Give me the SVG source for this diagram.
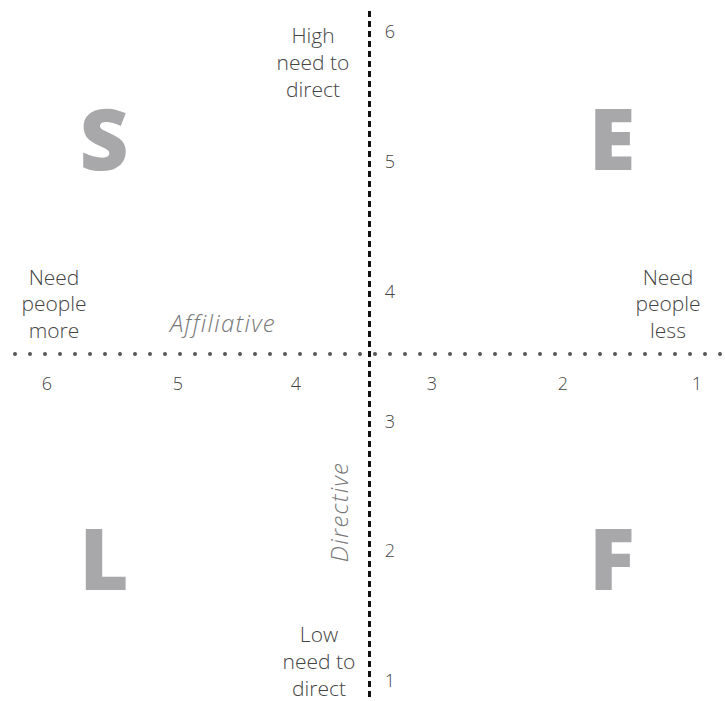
<svg xmlns="http://www.w3.org/2000/svg" width="725" height="701" viewBox="0 0 725 701">
<style>
.t{font-family:"Open Sans",Lato,"Liberation Sans",sans-serif;font-weight:300;font-size:21px;fill:#444;text-anchor:middle}
.n{font-family:"Open Sans",Lato,"Liberation Sans",sans-serif;font-weight:300;font-size:18px;fill:#444;text-anchor:middle}
.ax{font-family:"Open Sans",Lato,"Liberation Sans",sans-serif;font-weight:300;font-style:italic;font-size:24px;letter-spacing:1.3px;fill:#777;text-anchor:middle}
.big{font-family:"Open Sans",Lato,"Liberation Sans",sans-serif;font-weight:800;font-size:85px;fill:#a8a8ab;text-anchor:middle}
</style>
<g id="connectors">
<line x1="15" y1="354" x2="725" y2="354" stroke="#555" stroke-width="4" stroke-linecap="round" stroke-dasharray="0 15"/>
<line x1="369.5" y1="11" x2="369.5" y2="701" stroke="#111" stroke-width="3" stroke-dasharray="6 4"/>
</g>
<g id="quadrant-S"><text class="big" x="104" y="170">S</text></g>
<g id="quadrant-E"><text class="big" x="612" y="170">E</text></g>
<g id="quadrant-L"><text class="big" x="104" y="590">L</text></g>
<g id="quadrant-F"><text class="big" x="612" y="590">F</text></g>
<g id="label-high"><text class="t" x="313" y="43">High</text><text class="t" x="313" y="70">need to</text><text class="t" x="313" y="97">direct</text></g>
<g id="label-low"><text class="t" x="319" y="642">Low</text><text class="t" x="319" y="669">need to</text><text class="t" x="319" y="696">direct</text></g>
<g id="label-more"><text class="t" x="54" y="285">Need</text><text class="t" x="54" y="311">people</text><text class="t" x="54" y="338">more</text></g>
<g id="label-less"><text class="t" x="668" y="285">Need</text><text class="t" x="668" y="311">people</text><text class="t" x="668" y="338">less</text></g>
<g id="axis-affiliative"><text class="ax" x="223" y="332">Affiliative</text></g>
<g id="axis-directive"><text class="ax" transform="translate(348,512) rotate(-90)" x="0" y="0">Directive</text></g>
<g id="scale-vertical">
<text class="n" x="390" y="38">6</text>
<text class="n" x="390" y="168">5</text>
<text class="n" x="390" y="298">4</text>
<text class="n" x="390" y="428">3</text>
<text class="n" x="390" y="557">2</text>
<text class="n" x="390" y="687">1</text>
</g>
<g id="scale-horizontal">
<text class="n" x="47" y="390">6</text>
<text class="n" x="178" y="390">5</text>
<text class="n" x="296" y="390">4</text>
<text class="n" x="432" y="390">3</text>
<text class="n" x="563" y="390">2</text>
<text class="n" x="697" y="390">1</text>
</g>
</svg>
